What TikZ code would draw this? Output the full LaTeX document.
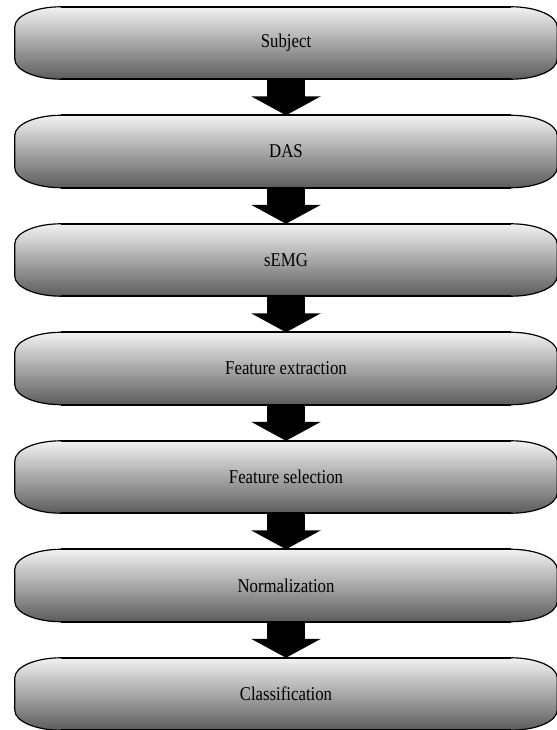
\documentclass[tikz,border=0pt]{standalone}
\usepackage{fontspec}
\setmainfont{Liberation Serif}
\newfontfamily\stagefamily[FakeStretch=0.86]{Liberation Serif}
\usetikzlibrary{arrows.meta,backgrounds}

\definecolor{stagetop}{gray}{0.95}
\definecolor{stagebot}{gray}{0.36}

\def \stagefont {\stagefamily\fontsize{19.5bp}{22bp}\selectfont}

\def \stageshape #1{\begin{pgfonlayer}{background}
\shade[top color=stagetop, bottom color=stagebot, draw, line width=1.2bp]
([xshift=46bp]#1.north west) -- ([xshift=-46bp]#1.north east)
arc[start angle=90, end angle=0, x radius=46bp, y radius=20bp]
-- ([yshift=20bp]#1.south east)
arc[start angle=0, end angle=-90, x radius=46bp, y radius=20bp]
-- ([xshift=46bp]#1.south west)
arc[start angle=270, end angle=180, x radius=46bp, y radius=20bp]
-- ([yshift=-20bp]#1.north west)
arc[start angle=180, end angle=90, x radius=46bp, y radius=20bp]
-- cycle;
\draw[line width=1.8bp] ([xshift=46bp]#1.north west) -- ([xshift=-46bp]#1.north east)
([xshift=46bp]#1.south west) -- ([xshift=-46bp]#1.south east);
\end{pgfonlayer}}

\def \feed #1#2{\draw[line width=38bp, -{Triangle[width=69bp, length=19bp]}] (#1.south) -- (#2.north);}

\begin{document}
\begin{tikzpicture}[x=1bp, y=1bp]

\useasboundingbox (0,0) rectangle (557,730);

\begin{scope}[every node/.style={minimum width=542bp, minimum height=72bp, inner sep=0pt, font=\stagefont}]
\node(subject) at(286,687) {Subject};
\node(das) at(286,578.5) {DAS};
\node(semg) at(286,470) {sEMG};
\node(extract) at(286,361.5) {Feature extraction};
\node(select) at(286,253) {Feature selection};
\node(norm) at(286,144.5) {Normalization};
\node(classify) at(286,36) {Classification};
\end{scope}

\stageshape{subject}
\stageshape{das}
\stageshape{semg}
\stageshape{extract}
\stageshape{select}
\stageshape{norm}
\stageshape{classify}

\feed{subject}{das}
\feed{das}{semg}
\feed{semg}{extract}
\feed{extract}{select}
\feed{select}{norm}
\feed{norm}{classify}

\end{tikzpicture}
\end{document}
